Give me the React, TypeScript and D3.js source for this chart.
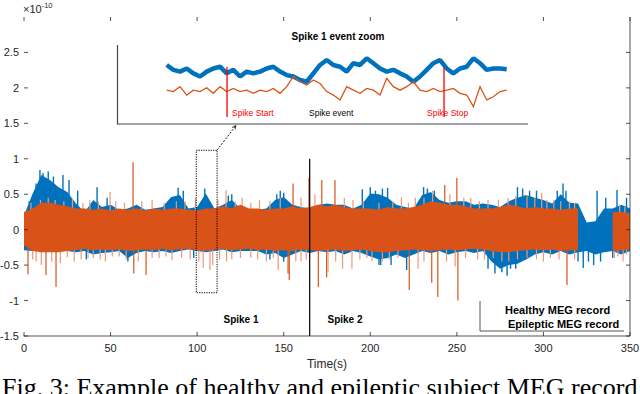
import { useEffect, useRef } from "react";
import * as d3 from "d3";

const W = 640;
const H = 394;

// time grid of the envelope samples (s)
const sampleTimes = d3.range(0, 351, 5);

// healthy (blue) envelope, x1e-10
const healthyUpper = [
  0.2, 0.51, 0.77, 0.7, 0.6, 0.53, 0.37, 0.25, 0.42, 0.32,
  0.35, 0.28, 0.3, 0.35, 0.28, 0.3, 0.32, 0.46, 0.49, 0.3,
  0.32, 0.51, 0.3, 0.35, 0.42, 0.3, 0.28, 0.28, 0.3, 0.42,
  0.46, 0.35, 0.32, 0.3, 0.35, 0.37, 0.35, 0.35, 0.3, 0.35,
  0.51, 0.5, 0.45, 0.35, 0.32, 0.3, 0.49, 0.53, 0.42, 0.38,
  0.4, 0.4, 0.35, 0.37, 0.35, 0.32, 0.4, 0.45, 0.49, 0.45,
  0.42, 0.37, 0.5, 0.38, 0.37, 0.1, 0.12, 0.3, 0.3, 0.35,
  0.3,
];
const healthyLower = [
  -0.29, -0.3, -0.28, -0.3, -0.28, -0.3, -0.32, -0.3, -0.35, -0.33,
  -0.32, -0.3, -0.4, -0.33, -0.3, -0.32, -0.3, -0.33, -0.3, -0.28,
  -0.3, -0.32, -0.3, -0.28, -0.32, -0.3, -0.3, -0.3, -0.35, -0.33,
  -0.4, -0.35, -0.3, -0.33, -0.3, -0.32, -0.3, -0.35, -0.3, -0.33,
  -0.38, -0.42, -0.4, -0.35, -0.4, -0.35, -0.3, -0.33, -0.3, -0.35,
  -0.32, -0.3, -0.33, -0.3, -0.45, -0.55, -0.5, -0.48, -0.42, -0.35,
  -0.32, -0.35, -0.3, -0.35, -0.32, -0.3, -0.35, -0.32, -0.3, -0.35,
  -0.3,
];

// epileptic (orange) envelope, null = no data
const epilepticUpper = [
  0.25, 0.3, 0.38, 0.38, 0.35, 0.33, 0.3, 0.3, 0.28, 0.3,
  0.27, 0.3, 0.28, 0.3, 0.27, 0.3, 0.28, 0.3, 0.3, 0.28,
  0.27, 0.3, 0.3, 0.33, 0.3, 0.35, 0.3, 0.3, 0.28, 0.3,
  0.3, 0.33, 0.3, 0.32, 0.35, 0.33, 0.35, 0.32, 0.3, 0.3,
  0.3, 0.28, 0.32, 0.3, 0.3, 0.32, 0.35, 0.4, 0.38, 0.35,
  0.35, 0.33, 0.3, 0.3, 0.3, 0.32, 0.35, 0.33, 0.3, 0.32,
  0.3, 0.3, 0.28, 0.3, 0.3, null, null, null, 0.25, 0.25,
  0.23,
];
const epilepticLower = [
  -0.22, -0.3, -0.32, -0.32, -0.32, -0.3, -0.29, -0.27, -0.29, -0.28,
  -0.29, -0.28, -0.3, -0.29, -0.28, -0.29, -0.27, -0.29, -0.28, -0.27,
  -0.29, -0.3, -0.28, -0.27, -0.29, -0.28, -0.27, -0.29, -0.28, -0.3,
  -0.29, -0.3, -0.28, -0.29, -0.3, -0.29, -0.28, -0.3, -0.29, -0.28,
  -0.3, -0.32, -0.32, -0.3, -0.29, -0.28, -0.29, -0.3, -0.29, -0.28,
  -0.29, -0.28, -0.27, -0.28, -0.3, -0.32, -0.32, -0.3, -0.29, -0.28,
  -0.29, -0.28, -0.3, -0.29, -0.29, null, null, null, -0.3, -0.29,
  -0.28,
];

// isolated peaks [time, value]
const healthySpikes: [number, number][] = [
  [3, 0.4], [7, 0.65], [9.2, 0.84], [11, 0.8], [14, 0.82], [17, 0.75], [22.5, 0.77],
  [26, 0.7], [31, 0.55], [42.2, 0.6], [48, 0.45], [89, 0.59], [92, 0.55], [104.4, 0.58],
  [118, 0.48], [120, 0.5], [146, 0.5], [148, 0.55], [150, 0.52], [195.4, 0.57], [200, 0.6],
  [203, 0.55], [207, 0.58], [210, 0.59], [230.8, 0.6], [233, 0.58], [237, 0.55], [285, 0.6],
  [288, 0.58], [292, 0.55], [296, 0.55], [308, 0.55], [311.3, 0.65], [313, 0.55], [331, 0.55],
  [336, 0.45], [342.5, 0.56], [348, 0.45],
  [36, -0.42], [60, -0.45], [98, -0.4], [142, -0.42], [150, -0.45], [205, -0.5], [206, -0.5],
  [212, -0.5], [221, -0.57], [268, -0.55], [272, -0.62], [276, -0.6], [279, -0.65], [281, -0.55],
  [284, -0.55], [320, -0.45], [323, -0.54], [326, -0.45], [329, -0.5], [333, -0.45], [340, -0.4],
];
const epilepticSpikes: [number, number][] = [
  [4, 0.38], [9.5, 0.42], [14, 0.45], [18, 0.42], [23, 0.4], [28, 0.44], [34, 0.38],
  [38, 0.42], [43, 0.4], [49.7, 0.53], [53, 0.4], [58, 0.38], [63, 0.95], [68, 0.4],
  [74, 0.42], [81, 0.38], [88, 0.4], [93, 0.4], [99, 0.45], [112, 0.42], [116.7, 0.56],
  [122, 0.4], [126, 0.45], [131, 0.38], [136, 0.42], [142, 0.4], [148, 0.45], [155.4, 0.65],
  [160, 0.45], [164.6, 0.73], [168, 0.5], [172, 0.7], [179.6, 0.7], [185, 0.45], [190, 0.42],
  [196, 0.4], [205, 0.38], [213, 0.4], [218, 0.46], [222, 0.38], [226, 0.45], [231, 0.45],
  [236, 0.55], [243, 0.63], [246, 0.5], [250, 0.73], [254, 0.45], [258, 0.45], [263, 0.4],
  [268, 0.42], [274, 0.42], [279.6, 0.45], [284, 0.48], [290.5, 0.49], [295, 0.45], [299, 0.52],
  [302, 0.42], [306, 0.42], [310, 0.4], [315, 0.4], [318, 0.38], [344, 0.35], [347, 0.32],
  [2.3, -0.63], [5, -0.42], [7, -0.45], [10, -0.5], [12.7, -0.64], [16, -0.45], [18.5, -0.81],
  [21, -0.47], [25, -0.39], [29, -0.45], [33, -0.42], [37, -0.4], [40, -0.4], [44, -0.42],
  [47, -0.45], [51, -0.38], [55, -0.38], [59, -0.42], [63.4, -0.62], [66, -0.45], [70.5, -0.64],
  [74, -0.4], [78, -0.4], [82, -0.38], [85.5, -0.43], [91, -0.4], [96, -0.42], [101, -0.45],
  [103.5, -0.54], [107.4, -0.57], [109, -0.5], [113, -0.42], [117, -0.45], [120, -0.42], [125, -0.4],
  [131, -0.4], [135, -0.42], [140, -0.45], [144, -0.4], [146.8, -0.57], [152.5, -0.62], [153.2, -0.71],
  [157, -0.45], [160, -0.45], [163, -0.42], [170, -0.81], [174.8, -0.67], [175.6, -0.6], [180, -0.45],
  [184, -0.55], [189.4, -0.55], [194, -0.42], [198, -0.4], [201, -0.45], [207, -0.45], [211, -0.42],
  [216, -0.4], [222.5, -0.85], [227.6, -0.55], [231, -0.45], [235.5, -0.75], [239, -0.95], [244, -0.45],
  [249, -0.52], [250.6, -1.0], [255, -0.4], [262, -0.42], [266, -0.42], [271, -0.4], [276, -0.45],
  [280, -0.45], [285, -0.42], [290.5, -0.4], [296, -0.42], [300, -0.45], [304, -0.4], [309, -0.42],
  [313.6, -0.78], [318, -0.42], [341, -0.4], [343, -0.38], [346, -0.45], [348, -0.35],
];

// zoomed spike-1 window (inset), relative amplitude
const insetHealthy = [
  0.43, 0.29, 0.24, 0.33, 0.19, 0.1, 0.24, 0.33, 0.38, 0.19, 0.29, 0.1, 0.24,
  0.19, 0.24, 0.33, 0.38, 0.24, 0.14, 0.1, 0.0, -0.05, 0.19, 0.43, 0.57, 0.43,
  0.38, 0.24, 0.48, 0.43, 0.62, 0.48, 0.33, 0.24, 0.29, 0.19, 0.1, -0.05, 0.1,
  0.29, 0.48, 0.57, 0.33, 0.19, 0.33, 0.38, 0.62, 0.48, 0.29, 0.33, 0.33, 0.31,
];
const insetEpileptic = [
  -0.29, -0.33, -0.19, -0.43, -0.29, -0.33, -0.22, -0.38, -0.19, -0.33, -0.24, -0.33, -0.29,
  -0.38, -0.29, -0.33, -0.24, -0.38, -0.19, 0.1, -0.05, -0.14, 0.0, -0.1, -0.33, -0.43,
  -0.57, -0.19, -0.29, -0.38, -0.24, -0.29, -0.43, 0.05, -0.19, -0.29, -0.19, -0.05, -0.29,
  -0.33, -0.24, -0.33, -0.29, -0.24, -0.38, -0.43, -0.76, -0.19, -0.57, -0.48, -0.33, -0.29,
];
const insetMarkers = [
  { at: 9.05, label: "Spike Start", color: "#ff0000" },
  { at: 41.6, label: "Spike Stop", color: "#ff0000" },
];

const xTicks = [0, 50, 100, 150, 200, 250, 300, 350];
const yTicks = [-1.5, -1, -0.5, 0, 0.5, 1, 1.5, 2, 2.5];
const zoomWindow = [99.5, 111.5];
const zoomRange = [-0.89, 1.12];
const spike2Time = 165;

const BLUE = "#0072bd";
const ORANGE = "#d95319";
const ORANGE_LIGHT = "#eb9a78";
const AX = "#262626";
const SANS = "'Liberation Sans', Arial, Helvetica, sans-serif";

export default function App() {
  const svgRef = useRef<SVGSVGElement>(null);

  useEffect(() => {
    const svg = d3.select(svgRef.current);
    svg.selectAll("*").remove();

    const x = d3.scaleLinear().domain([0, 350]).range([24, 630]);
    const y = d3.scaleLinear().domain([-1.5, 3]).range([336, 17]);

    type Row = { t: number; hi: number | null; lo: number | null };
    const healthyRows: Row[] = sampleTimes.map((t, i) => ({ t, hi: healthyUpper[i], lo: healthyLower[i] }));
    const epiRows: Row[] = sampleTimes.map((t, i) => ({ t, hi: epilepticUpper[i], lo: epilepticLower[i] }));

    const band = d3
      .area<Row>()
      .defined((d) => d.hi != null && d.lo != null)
      .x((d) => x(d.t))
      .y0((d) => y(d.lo as number))
      .y1((d) => y(d.hi as number));

    const plot = svg.append("g");

    // healthy record first, epileptic record drawn over it
    plot.append("path").datum(healthyRows).attr("d", band).attr("fill", BLUE);
    plot
      .append("g")
      .selectAll("line")
      .data(healthySpikes)
      .join("line")
      .attr("x1", (d) => x(d[0]))
      .attr("x2", (d) => x(d[0]))
      .attr("y1", y(0))
      .attr("y2", (d) => y(d[1]))
      .attr("stroke", BLUE)
      .attr("stroke-width", 1.4);

    plot
      .append("g")
      .selectAll("line")
      .data(epilepticSpikes)
      .join("line")
      .attr("x1", (d) => x(d[0]))
      .attr("x2", (d) => x(d[0]))
      .attr("y1", y(0))
      .attr("y2", (d) => y(d[1]))
      .attr("stroke", (d) => (Math.abs(d[1]) > 0.6 ? ORANGE : ORANGE_LIGHT))
      .attr("stroke-width", 1.2);
    plot.append("path").datum(epiRows).attr("d", band).attr("fill", ORANGE);

    // axes: bottom + right lines, ticks all round
    const axes = svg.append("g").attr("stroke", AX).attr("stroke-width", 0.8).attr("fill", "none");
    axes.append("line").attr("x1", 23.5).attr("x2", 630).attr("y1", 336).attr("y2", 336);
    axes.append("line").attr("x1", 630).attr("x2", 630).attr("y1", 17).attr("y2", 336);
    xTicks.forEach((t) => {
      axes.append("line").attr("x1", x(t)).attr("x2", x(t)).attr("y1", 336).attr("y2", 332);
      axes.append("line").attr("x1", x(t)).attr("x2", x(t)).attr("y1", 17).attr("y2", 21);
    });
    yTicks.forEach((v) => {
      axes.append("line").attr("x1", 24).attr("x2", 28).attr("y1", y(v)).attr("y2", y(v));
      axes.append("line").attr("x1", 626).attr("x2", 630).attr("y1", y(v)).attr("y2", y(v));
    });

    const labels = svg.append("g").attr("font-family", SANS).attr("fill", AX);
    labels
      .selectAll("text.xt")
      .data(xTicks)
      .join("text")
      .attr("x", (d) => x(d))
      .attr("y", 352)
      .attr("text-anchor", "middle")
      .attr("font-size", 11)
      .text((d) => d);
    labels
      .selectAll("text.yt")
      .data(yTicks)
      .join("text")
      .attr("x", 19)
      .attr("y", (d) => y(d) + 4)
      .attr("text-anchor", "end")
      .attr("font-size", 11)
      .text((d) => d);
    labels
      .append("text")
      .attr("x", 327)
      .attr("y", 368)
      .attr("text-anchor", "middle")
      .attr("font-size", 12)
      .text("Time(s)");
    const exp = labels.append("text").attr("x", 23).attr("y", 13).attr("font-size", 11);
    exp.append("tspan").text("\u00d710");
    exp.append("tspan").attr("font-size", 7.5).attr("dy", -5).text("-10");

    // spike 1 dotted window and arrow to the inset
    svg
      .append("rect")
      .attr("x", x(zoomWindow[0]))
      .attr("y", y(zoomRange[1]))
      .attr("width", x(zoomWindow[1]) - x(zoomWindow[0]))
      .attr("height", y(zoomRange[0]) - y(zoomRange[1]))
      .attr("fill", "none")
      .attr("stroke", "#000")
      .attr("stroke-width", 1)
      .attr("stroke-dasharray", "1.2,1.2");
    const defs = svg.append("defs");
    defs
      .append("marker")
      .attr("id", "ah")
      .attr("viewBox", "0 0 10 10")
      .attr("refX", 9)
      .attr("refY", 5)
      .attr("markerWidth", 5)
      .attr("markerHeight", 5)
      .attr("orient", "auto")
      .append("path")
      .attr("d", "M0,1 L9,5 L0,9")
      .attr("fill", "none")
      .attr("stroke", "#000")
      .attr("stroke-width", 1.5);
    svg
      .append("line")
      .attr("x1", x(zoomWindow[1]))
      .attr("y1", y(zoomRange[1]))
      .attr("x2", x(122.4))
      .attr("y2", y(1.47))
      .attr("stroke", "#000")
      .attr("stroke-width", 0.9)
      .attr("stroke-dasharray", "2,1.5")
      .attr("marker-end", "url(#ah)");

    // spike 2 marker
    svg
      .append("line")
      .attr("x1", x(spike2Time))
      .attr("x2", x(spike2Time))
      .attr("y1", y(1.0))
      .attr("y2", y(-1.5))
      .attr("stroke", "#000")
      .attr("stroke-width", 1.2);

    const bold = svg.append("g").attr("font-family", SANS).attr("font-weight", "bold").attr("fill", "#000");
    bold.append("text").attr("x", 241).attr("y", 323).attr("text-anchor", "middle").attr("font-size", 10).text("Spike 1");
    bold.append("text").attr("x", 345).attr("y", 323).attr("text-anchor", "middle").attr("font-size", 10).text("Spike 2");

    // legend
    svg.append("path").attr("d", "M480,301 V331 H624").attr("fill", "none").attr("stroke", "#555").attr("stroke-width", 1);
    bold.append("text").attr("x", 505).attr("y", 314).attr("font-size", 11).text("Healthy MEG record");
    bold.append("text").attr("x", 508).attr("y", 328).attr("font-size", 11).text("Epileptic MEG record");

    // inset
    const xi = d3.scaleLinear().domain([0, insetHealthy.length - 1]).range([166.7, 506.7]);
    const yi = d3.scaleLinear().domain([-1, 1]).range([115, 45]);
    const inset = svg.append("g");
    inset.append("path").attr("d", "M117.5,45 V124 H528").attr("fill", "none").attr("stroke", "#444").attr("stroke-width", 1.2);
    const ln = d3
      .line<number>()
      .x((_, i) => xi(i))
      .y((d) => yi(d));
    inset.append("path").attr("d", ln(insetHealthy)).attr("fill", "none").attr("stroke", BLUE).attr("stroke-width", 4.5).attr("stroke-linejoin", "bevel");
    inset.append("path").attr("d", ln(insetEpileptic)).attr("fill", "none").attr("stroke", ORANGE).attr("stroke-width", 1.3);
    insetMarkers.forEach((m) => {
      inset
        .append("line")
        .attr("x1", xi(m.at))
        .attr("x2", xi(m.at))
        .attr("y1", yi(0.37))
        .attr("y2", yi(-1.06))
        .attr("stroke", m.color)
        .attr("stroke-width", 1.3);
    });
    inset
      .append("text")
      .attr("x", 338)
      .attr("y", 40)
      .attr("text-anchor", "middle")
      .attr("font-family", SANS)
      .attr("font-weight", "bold")
      .attr("font-size", 10)
      .text("Spike 1 event zoom");
    const insetText = [
      { x: xi(insetMarkers[0].at) + 5, label: "Spike Start", color: "#ff0000" },
      { x: 309, label: "Spike event", color: "#000" },
      { x: xi(insetMarkers[1].at) - 17, label: "Spike Stop", color: "#ff0000" },
    ];
    insetText.forEach((t) => {
      inset
        .append("text")
        .attr("x", t.x)
        .attr("y", 116)
        .attr("font-family", SANS)
        .attr("font-size", 8.5)
        .attr("fill", t.color)
        .text(t.label);
    });

    // caption (cut off at the bottom edge)
    svg
      .append("text")
      .attr("x", 2)
      .attr("y", 396)
      .attr("font-family", "'Liberation Serif', 'Times New Roman', serif")
      .attr("font-size", 26)
      .attr("fill", "#000")
      .text("Fig. 3: Example of healthy and epileptic subject MEG record");
  }, []);

  return (
    <svg
      ref={svgRef}
      width={W}
      height={H}
      style={{ position: "absolute", left: 0, top: 0, background: "#fff" }}
    />
  );
}
